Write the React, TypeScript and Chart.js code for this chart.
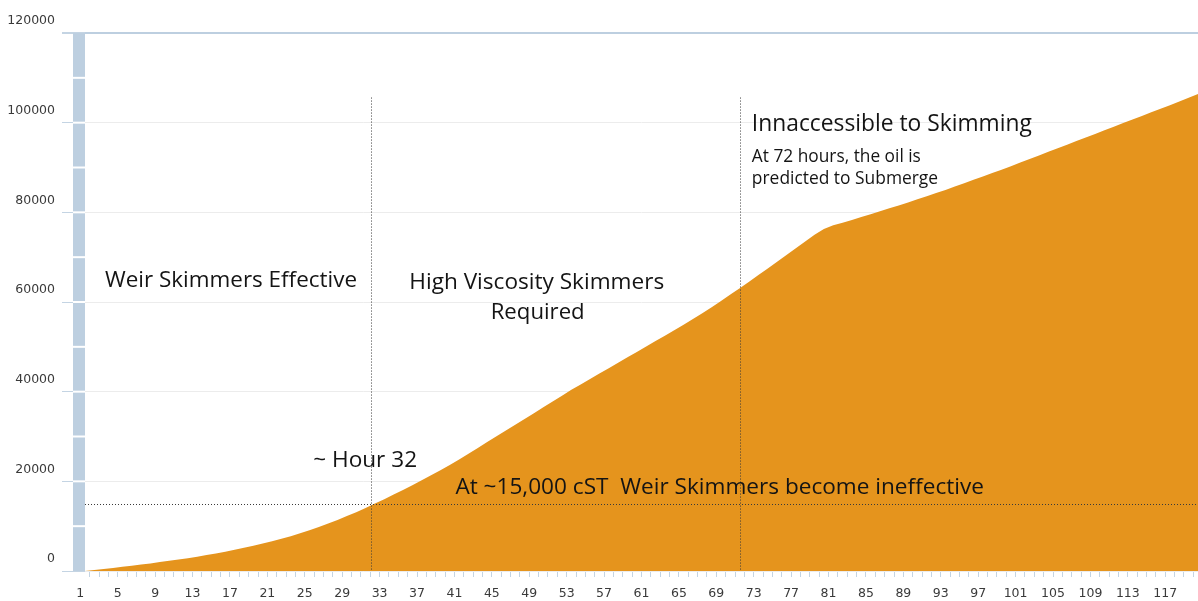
import React, { useEffect, useRef } from 'react';
import { Chart, registerables } from 'chart.js';

Chart.register(...registerables);

// Hours since release (categories)
const hours: string[] = Array.from({ length: 120 }, (_, i) => String(i + 1));

// Hour labels shown under the axis
const shownHourLabels = ['1', '5', '9', '13', '17', '21', '25', '29', '33', '37', '41', '45', '49', '53', '57', '61', '65', '69', '73', '77', '81', '85', '89', '93', '97', '101', '105', '109', '113', '117'];

// Viscosity (cST) per hour
const viscosity = [
  0, 220, 450, 690, 930, 1180, 1440, 1700, 1980, 2260,
  2560, 2870, 3200, 3560, 3930, 4320, 4730, 5160, 5620, 6110,
  6630, 7180, 7770, 8400, 9080, 9810, 10580, 11390, 12240, 13130,
  14060, 15030, 16030, 17050, 18090, 19150, 20230, 21340, 22490, 23670,
  24890, 26150, 27450, 28760, 30060, 31340, 32630, 33920, 35210, 36500,
  37800, 39100, 40400, 41610, 42820, 44030, 45240, 46450, 47660, 48870,
  50080, 51290, 52500, 53710, 54920, 56200, 57500, 58850, 60250, 61650,
  63050, 64520, 66000, 67500, 69000, 70500, 72000, 73500, 75000, 76300,
  77100, 77700, 78300, 78950, 79600, 80250, 80900, 81550, 82200, 82900,
  83600, 84300, 85000, 85750, 86500, 87250, 88000, 88750, 89500, 90300,
  91100, 91900, 92700, 93500, 94300, 95100, 95900, 96700, 97500, 98300,
  99100, 99900, 100700, 101500, 102300, 103100, 103900, 104700, 105550, 106400,
];

// Y axis
const yMin = 0;
const yMax = 120000;
const yStep = 20000;
const yBarBreaks = [10000, 20000, 30000, 40000, 50000, 60000, 70000, 80000, 90000, 100000, 110000];

// Reference lines
const thresholdValue = 15000; // ~15,000 cST
const markerHours = [31.6, 71.0]; // ~hour 32, hour 72
const markerTopValue = 105600;

// Annotation texts: [text, hour, value, fontSize, width, align]
const notes: [string, number, number, number, number, CanvasTextAlign][] = [
  ['Weir Skimmers Effective', 3.14, 64800, 22.6, 252, 'left'],
  ['High Viscosity Skimmers', 49.3, 64300, 22.6, 255, 'center'],
  ['Required', 49.4, 57600, 22.6, 94, 'center'],
  ['~ Hour 32', 25.4, 24600, 22.6, 105, 'left'],
  ['At ~15,000 cST  Weir Skimmers become ineffective', 40.6, 18600, 22.6, 530, 'left'],
  ['Innaccessible to Skimming', 72.3, 99600, 23, 280, 'left'],
  ['At 72 hours, the oil is', 72.3, 92300, 17.4, 169, 'left'],
  ['predicted to Submerge', 72.3, 87500, 17.4, 188, 'left'],
];

const AREA = '#e5941d';
const BAR = '#bdcfe0';
const TICK = '#c4d4e3';
const GRID = '#ececec';
const TEXT_FONT = '"Open Sans", "Noto Sans", sans-serif';
const AXIS_FONT = { family: '"DejaVu Sans", Verdana, sans-serif', size: 12.5 };

const decor = {
  id: 'decor',
  afterDatasetsDraw(chart: any) {
    const { ctx, chartArea, scales } = chart;
    const x = scales.x;
    const y = scales.y;
    ctx.save();
    // thick axis bar on the left
    const top = y.getPixelForValue(yMax);
    const bot = y.getPixelForValue(yMin);
    ctx.fillStyle = BAR;
    ctx.fillRect(chartArea.left - 12, top, 12, bot - top);
    ctx.fillStyle = '#ffffff';
    yBarBreaks.forEach((v) => {
      const py = y.getPixelForValue(v);
      ctx.fillRect(chartArea.left - 12, py - 1, 12, 2);
    });

    // dotted reference lines
    ctx.strokeStyle = '#3a3a3a';
    ctx.lineWidth = 1;
    ctx.setLineDash([1, 2]);
    const hy = Math.round(y.getPixelForValue(thresholdValue)) + 0.5;
    ctx.beginPath();
    ctx.moveTo(chartArea.left, hy);
    ctx.lineTo(chartArea.right, hy);
    ctx.stroke();
    markerHours.forEach((h) => {
      const px = Math.round(x.getPixelForValue(h - 1)) + 0.5;
      ctx.beginPath();
      ctx.moveTo(px, y.getPixelForValue(markerTopValue));
      ctx.lineTo(px, bot);
      ctx.stroke();
    });
    ctx.setLineDash([]);

    // texts
    ctx.fillStyle = '#141414';
    ctx.textBaseline = 'middle';
    notes.forEach(([text, h, v, size, width, align]) => {
      ctx.font = `${size}px ${TEXT_FONT}`;
      ctx.textAlign = align;
      const px = x.getPixelForValue(h - 1);
      const py = y.getPixelForValue(v);
      ctx.fillText(text, px, py, width);
    });
    ctx.restore();
  },
};

export default function App() {
  const ref = useRef<HTMLCanvasElement | null>(null);

  useEffect(() => {
    if (!ref.current) return;
    const chart = new Chart(ref.current, {
      type: 'line',
      data: {
        labels: hours,
        datasets: [
          {
            data: viscosity,
            fill: 'origin',
            backgroundColor: AREA,
            borderWidth: 0,
            borderColor: AREA,
            pointRadius: 0,
            tension: 0,
          },
        ],
      },
      options: {
        animation: false,
        responsive: false,
        maintainAspectRatio: false,
        layout: { padding: { top: 33, right: 0, left: 0, bottom: 0 } },
        plugins: {
          legend: { display: false },
          tooltip: { enabled: false },
        },
        scales: {
          x: {
            type: 'category',
            offset: false,
            border: { display: false },
            grid: {
              display: true,
              drawOnChartArea: false,
              drawTicks: true,
              tickLength: 6,
              tickColor: TICK,
              offset: true,
            },
            ticks: {
              autoSkip: false,
              maxRotation: 0,
              minRotation: 0,
              padding: 9,
              labelOffset: -4.7,
              color: '#3a3a3a',
              font: AXIS_FONT,
              callback: (_v: any, i: number) => (shownHourLabels.includes(hours[i]) ? hours[i] : ''),
            },
            afterFit: (s: any) => {
              s.height = 30;
              s.paddingLeft = 0;
              s.paddingRight = 0;
            },
          },
          y: {
            min: yMin,
            max: yMax,
            border: { display: false },
            grid: {
              color: (c: any) => (c.tick && c.tick.value === yMax ? BAR : GRID),
              lineWidth: (c: any) => (c.tick && c.tick.value === yMax ? 2 : 1),
              tickLength: 23,
              tickColor: TICK,
            },
            ticks: {
              stepSize: yStep,
              padding: 7,
              labelOffset: -12,
              color: '#3a3a3a',
              font: AXIS_FONT,
              callback: (v: any) => String(v),
            },
            afterFit: (s: any) => {
              s.width = 85;
            },
          },
        },
      },
      plugins: [decor],
    });
    return () => chart.destroy();
  }, []);

  return (
    <div style={{ position: 'fixed', left: 0, top: 0, width: 1198, height: 601, background: '#fff' }}>
      <canvas ref={ref} width={1198} height={601} style={{ display: 'block' }} />
    </div>
  );
}
